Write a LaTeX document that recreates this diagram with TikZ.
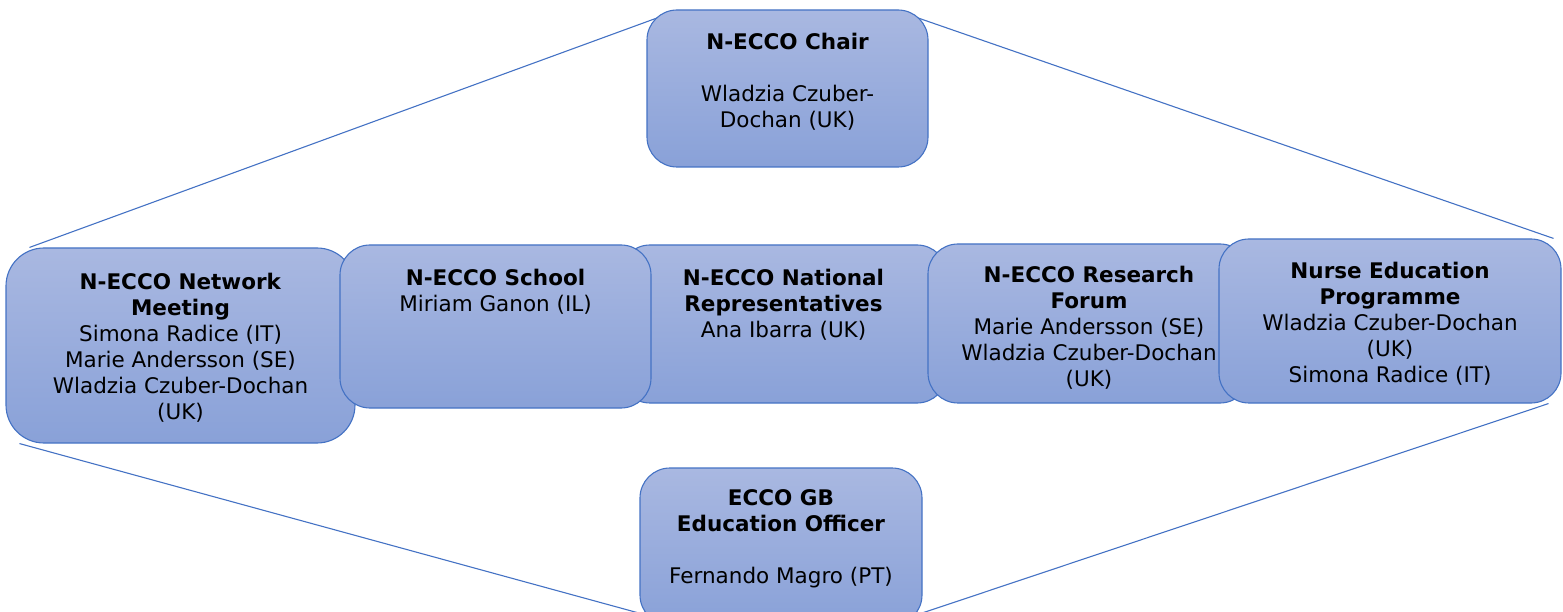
\documentclass[tikz,border=0pt]{standalone}
\usepackage{fontspec}
\setmainfont{DejaVu Sans}
\definecolor{boxline}{HTML}{4472C4}
\definecolor{boxtop}{HTML}{A9B8E1}
\definecolor{boxbot}{HTML}{89A1D8}
\pgfdeclarelayer{bg}
\pgfsetlayers{bg,main}
\begin{document}
\begin{tikzpicture}[x=1pt,y=1pt,
	box/.style={draw=boxline, line width=1.1pt, rounded corners=30pt, top color=boxtop, bottom color=boxbot, inner sep=0pt},
	txt/.style={align=center, anchor=north, inner sep=0pt, font=\fontsize{21.5}{26}\selectfont},
	link/.style={draw=boxline, line width=1.1pt}]
	\useasboundingbox (0,0) rectangle (1563,611);
	% top and bottom
	\node [box, minimum width=281pt, minimum height=157pt] (chair) at (787.5,522.5) {};
	\node [txt] (chair-t) at ([yshift=-24pt]chair.north) {\textbf{N-ECCO Chair}\\[26pt]Wladzia Czuber-\\Dochan (UK)};
	\node [box, minimum width=282pt, minimum height=157pt] (edu) at (781,64.5) {};
	\node [txt] (edu-t) at ([yshift=-22pt]edu.north) {\textbf{ECCO GB}\\\textbf{Education Officer}\\[26pt]Fernando Magro (PT)};
	% middle row
	\node [box, rounded corners=38pt, minimum width=349pt, minimum height=195pt] (net) at (180.5,265.5) {};
	\node [txt] (net-t) at ([yshift=-26pt]net.north) {\textbf{N-ECCO Network}\\\textbf{Meeting}\\Simona Radice (IT)\\Marie Andersson (SE)\\Wladzia Czuber-Dochan\\(UK)};
	\node [box, minimum width=327pt, minimum height=158pt] (nat) at (783.5,287) {};
	\node [txt] (nat-t) at ([yshift=-25pt]nat.north) {\textbf{N-ECCO National}\\\textbf{Representatives}\\Ana Ibarra (UK)};
	\node [box, minimum width=311pt, minimum height=163pt] (school) at (495.5,284.5) {};
	\node [txt] (school-t) at ([yshift=-25pt]school.north) {\textbf{N-ECCO School}\\Miriam Ganon (IL)};
	\node [box, minimum width=322pt, minimum height=159pt] (res) at (1089,287.5) {};
	\node [txt] (res-t) at ([yshift=-23pt]res.north) {\textbf{N-ECCO Research}\\\textbf{Forum}\\Marie Andersson (SE)\\Wladzia Czuber-Dochan\\(UK)};
	\node [box, minimum width=342pt, minimum height=164pt] (nurse) at (1390,290) {};
	\node [txt] (nurse-t) at ([yshift=-24pt]nurse.north) {\textbf{Nurse Education}\\\textbf{Programme}\\Wladzia Czuber-Dochan\\(UK)\\Simona Radice (IT)};
	% outline behind the boxes
	\begin{pgfonlayer}{bg}
		\draw [link] ([xshift=24pt]net.north west) -- ([xshift=12pt,yshift=-8pt]chair.north west);
		\draw [link] ([xshift=-12pt,yshift=-8pt]chair.north east) -- ([xshift=-8pt]nurse.north east);
		\draw [link] ([xshift=14pt]net.south west) -- ([xshift=5pt,yshift=11pt]edu.south west);
		\draw [link] ([xshift=-13pt]nurse.south east) -- ([xshift=-5pt,yshift=11pt]edu.south east);
	\end{pgfonlayer}
\end{tikzpicture}
\end{document}
